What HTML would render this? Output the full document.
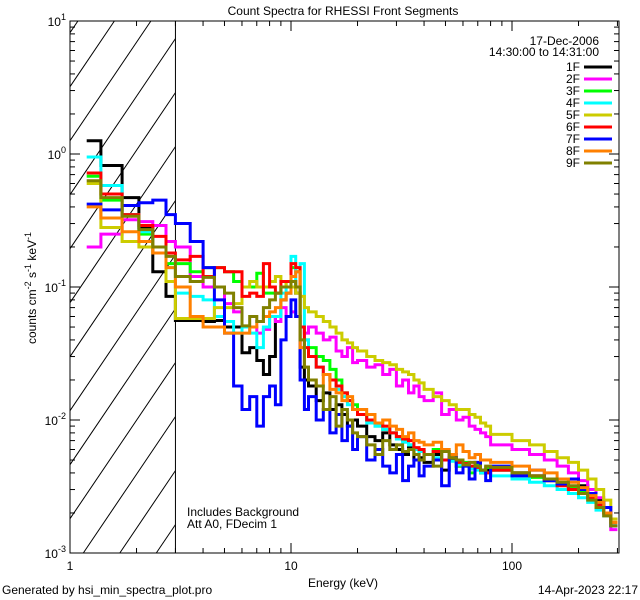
<!DOCTYPE html>
<html><head><meta charset="utf-8"><style>
html,body{margin:0;padding:0;background:#fff;overflow:hidden;width:640px;height:600px;}
svg{display:block;}
svg text{font-family:"Liberation Sans",sans-serif;font-size:12px;fill:#000;}
</style></head><body>
<svg id="chart" width="640" height="600" viewBox="0 0 640 600">
<g id="hatch"></g>
<g id="axes"></g>
<g id="series"></g>
<g id="legend"></g>
<text x="343" y="15" text-anchor="middle" font-size="14">Count Spectra for RHESSI Front Segments</text>
<text x="599" y="45" text-anchor="end">17-Dec-2006</text>
<text x="599" y="56" text-anchor="end">14:30:00 to 14:31:00</text>
<text x="187" y="516">Includes Background</text>
<text x="187" y="528">Att A0, FDecim 1</text>
<text x="343" y="587" text-anchor="middle">Energy (keV)</text>
<text transform="translate(36,288) rotate(-90)" text-anchor="middle">counts cm<tspan dy="-5" font-size="9">-2</tspan><tspan dy="5"> s</tspan><tspan dy="-5" font-size="9">-1</tspan><tspan dy="5"> keV</tspan><tspan dy="-5" font-size="9">-1</tspan></text>
<text x="2" y="594" font-size="11">Generated by hsi_min_spectra_plot.pro</text>
<text x="638" y="594" font-size="11" text-anchor="end">14-Apr-2023 22:17</text>
</svg>
<script>
const edges=[1.19,1.38,1.72,2.05,2.37,2.72,3.0,3.5,4,4.5,5,5.5,6,6.5,7,7.5,8,8.5,9,9.5,10,10.5,11,11.5,12,13,14,15,16,17,18,19,20,22,24,26,28,30,32,34,36,38,40,44,48,52,56,60,64,68,72,76,80,100,120,140,160,180,200,220,240,260,280,300];
const seriesNames=["1F","2F","3F","4F","5F","6F","7F","8F","9F"];
const s1F=[1.26,0.82,0.47,0.28,0.13,0.085, 0.056,0.056,0.055,0.056,0.05,0.05,0.032,0.035,0.028,0.022,0.03,0.06,0.08,0.09,0.11,0.09,0.025,0.02, 0.018,0.014,0.016,0.012,0.013,0.011,0.009,0.01, 0.009,0.0075,0.007,0.008,0.0065,0.006,0.0055,0.0062,0.005,0.0052, 0.0048,0.0055,0.0042,0.005,0.0045,0.0047,0.0043,0.0046,0.004,0.0042, 0.0042,0.004,0.0038,0.0035,0.0033,0.003,0.0032,0.0028,0.0025,0.002,0.0018];
const s2F=[0.2,0.25,0.32,0.31,0.29,0.22, 0.2,0.12,0.1,0.1,0.075,0.065,0.05,0.05,0.045,0.048,0.06,0.055,0.07,0.06,0.065,0.06,0.05,0.045, 0.05,0.045,0.04,0.042,0.033,0.03,0.035,0.027, 0.028,0.025,0.026,0.022,0.024,0.018,0.02,0.016,0.018,0.015, 0.014,0.016,0.011,0.012,0.01,0.0105,0.009,0.0085,0.008,0.0075, 0.0065,0.006,0.0055,0.005,0.0045,0.004,0.0035,0.003,0.0026,0.0022,0.0015];
const s3F=[0.68,0.45,0.35,0.25,0.2,0.15, 0.15,0.13,0.14,0.14,0.13,0.11,0.1,0.1,0.127,0.09,0.09,0.09,0.1,0.11,0.14,0.13,0.05,0.04, 0.035,0.03,0.028,0.024,0.02,0.016,0.014,0.013, 0.011,0.01,0.009,0.0085,0.008,0.0075,0.007,0.0065,0.006,0.0058, 0.0055,0.006,0.005,0.0052,0.0045,0.0048,0.004,0.0046,0.0042,0.0044, 0.0042,0.004,0.0037,0.0035,0.0033,0.0031,0.0029,0.0026,0.0023,0.002,0.0016];
const s4F=[0.95,0.58,0.35,0.26,0.2,0.14, 0.09,0.085,0.08,0.06,0.055,0.045,0.05,0.045,0.035,0.05,0.06,0.06,0.09,0.1,0.17,0.1,0.15,0.04, 0.03,0.025,0.022,0.02,0.017,0.015,0.013,0.012, 0.011,0.0095,0.009,0.0085,0.008,0.0072,0.0068,0.0065,0.006,0.0058, 0.0055,0.0052,0.005,0.0049,0.0046,0.0045,0.0043,0.0042,0.004,0.004, 0.0038,0.0036,0.0034,0.0032,0.003,0.0028,0.0026,0.0024,0.0021,0.0019,0.0016];
const s5F=[0.6,0.28,0.22,0.2,0.18,0.11, 0.058,0.058,0.058,0.07,0.07,0.075,0.1,0.11,0.1,0.1,0.11,0.12,0.11,0.1,0.1,0.09,0.085,0.07, 0.065,0.06,0.055,0.05,0.045,0.04,0.038,0.035, 0.033,0.03,0.028,0.027,0.026,0.024,0.023,0.022,0.02,0.019, 0.017,0.015,0.014,0.013,0.012,0.012,0.011,0.0105,0.0095,0.009, 0.0078,0.007,0.0065,0.0058,0.0052,0.0048,0.0042,0.0036,0.003,0.0025,0.0018];
const s6F=[0.72,0.5,0.35,0.29,0.24,0.18, 0.16,0.17,0.12,0.14,0.13,0.13,0.085,0.09,0.085,0.15,0.1,0.09,0.11,0.11,0.15,0.14,0.05,0.035, 0.03,0.025,0.022,0.02,0.018,0.016,0.014,0.012, 0.011,0.01,0.0095,0.009,0.008,0.0075,0.0072,0.007,0.0062,0.006, 0.0055,0.0058,0.005,0.0052,0.0048,0.0047,0.0045,0.0044,0.0042,0.004, 0.0042,0.004,0.0038,0.0035,0.0032,0.003,0.0028,0.0026,0.0023,0.002,0.0017];
const s7F=[0.42,0.38,0.41,0.43,0.45,0.35, 0.3,0.22,0.14,0.08,0.045,0.018,0.012,0.015,0.009,0.015,0.018,0.013,0.04,0.06,0.08,0.06,0.02,0.012, 0.015,0.01,0.012,0.008,0.011,0.007,0.009,0.006, 0.0075,0.005,0.006,0.0045,0.004,0.0055,0.0035,0.0045,0.005,0.0038, 0.0045,0.005,0.0032,0.0055,0.004,0.0045,0.0036,0.0048,0.0042,0.0035, 0.0045,0.0038,0.0042,0.0035,0.0033,0.0036,0.003,0.0028,0.0024,0.0022,0.0016];
const s8F=[0.4,0.33,0.26,0.22,0.18,0.14, 0.1,0.06,0.05,0.05,0.045,0.045,0.045,0.05,0.055,0.06,0.065,0.07,0.08,0.09,0.12,0.13,0.035,0.025, 0.02,0.018,0.022,0.017,0.016,0.014,0.015,0.012, 0.012,0.011,0.0095,0.01,0.009,0.0085,0.0075,0.008,0.007,0.0068, 0.0065,0.0068,0.006,0.0055,0.0065,0.0058,0.0052,0.0055,0.005,0.005, 0.0048,0.0045,0.0042,0.004,0.0036,0.0034,0.0031,0.0027,0.0024,0.002,0.0017];
const s9F=[0.63,0.47,0.34,0.27,0.2,0.17, 0.12,0.11,0.118,0.1,0.09,0.07,0.051,0.06,0.055,0.07,0.08,0.09,0.1,0.1,0.11,0.1,0.04,0.025, 0.02,0.018,0.012,0.015,0.009,0.012,0.01,0.008, 0.0075,0.0065,0.0055,0.007,0.006,0.0065,0.0058,0.006,0.0055,0.005, 0.0055,0.0045,0.0058,0.0052,0.005,0.0046,0.0048,0.0045,0.0042,0.0045, 0.0044,0.004,0.0038,0.0036,0.0034,0.0032,0.0028,0.0025,0.0022,0.0019,0.0016];
const xTickLabels=["1","10","100"];
const yTickLabels=["1","0","-1","-2","-3"];

const allSeries=[s1F,s2F,s3F,s4F,s5F,s6F,s7F,s8F,s9F];
const lineColors=["#000000","#ff00ff","#00ff00","#00ffff","#cccc00","#ff0000","#0000ff","#ff8000","#808000"];
const X0=70,X1=619,Y0=21,Y1=553,XD=221,YD=133;
const xS=e=>X0+XD*Math.log10(e);
const yS=v=>Y0+(1-Math.log10(v))*YD;
const NS="http://www.w3.org/2000/svg";
function mk(tag,attrs,parent){const el=document.createElementNS(NS,tag);for(const k in attrs)el.setAttribute(k,attrs[k]);parent.appendChild(el);return el;}

// hatch lines, clipped analytically to the hatched rectangle
const hatch=document.getElementById('hatch');
const HX1=xS(3), slope=1.48;
for(let k=-6;k<14;k++){
  const y0=140.7+(k-2)*54; // y at x=X0
  // param along x: y = y0 - slope*(x-X0)
  let xa=X0, xb=HX1;
  // clip y<=Y1: x >= X0+(y0-Y1)/slope
  xa=Math.max(xa, X0+(y0-Y1)/slope);
  // clip y>=Y0: x <= X0+(y0-Y0)/slope
  xb=Math.min(xb, X0+(y0-Y0)/slope);
  if(xb<=xa) continue;
  const l=mk('line',{x1:xa,y1:y0-slope*(xa-X0),x2:xb,y2:y0-slope*(xb-X0),stroke:'#000','stroke-width':1},hatch);
  
  
}
const ax=document.getElementById('axes');
const vl=mk('line',{x1:xS(3),y1:Y0,x2:xS(3),y2:Y1,stroke:'#000','stroke-width':1},ax);



const fr=mk('rect',{x:X0,y:Y0,width:X1-X0,height:Y1-Y0,fill:'none',stroke:'#000','stroke-width':1},ax);


for(let d=0;d<3;d++){
  for(let m=1;m<10;m++){
    const e=Math.pow(10,d)*m; const x=xS(e); if(x>X1) continue;
    const len=m===1?10:5;
    mk('line',{x1:x,y1:Y1,x2:x,y2:Y1-len,stroke:'#000'},ax);
    mk('line',{x1:x,y1:Y0,x2:x,y2:Y0+len,stroke:'#000'},ax);
  }
  const t=mk('text',{x:xS(Math.pow(10,d)),y:Y1+17,'text-anchor':'middle'},ax);
  t.textContent=xTickLabels[d];
  
  
}
for(let p=-3;p<=1;p++){
  for(let m=1;m<10;m++){
    const v=Math.pow(10,p)*m; if(v>10) continue;
    const y=yS(v); const len=m===1?10:5;
    mk('line',{x1:X0,y1:y,x2:X0+len,y2:y,stroke:'#000'},ax);
    mk('line',{x1:X1,y1:y,x2:X1-len,y2:y,stroke:'#000'},ax);
  }
}
yTickLabels.forEach((lab,i)=>{
  const p=1-i; const y=yS(Math.pow(10,p));
  const t=mk('text',{x:X0-4,y:y+5,'text-anchor':'end'},ax);
  t.innerHTML='10<tspan dy="-6" font-size="9">'+lab+'</tspan>';
  
  
});

const sg=document.getElementById('series');
const sc=mk('clipPath',{id:'pclip'},document.getElementById('chart'));
mk('rect',{x:X0,y:Y0,width:X1-X0,height:Y1-Y0},sc);
sg.setAttribute('clip-path','url(#pclip)');
allSeries.forEach((vals,si)=>{
  let d='';
  vals.forEach((v,i)=>{
    const y=yS(v);
    d+=(i===0?'M'+xS(edges[0]).toFixed(1)+','+y.toFixed(1):'V'+y.toFixed(1))+'H'+xS(edges[i+1]).toFixed(1);
  });
  const p=mk('path',{d:d,fill:'none',stroke:lineColors[si],'stroke-width':3,'stroke-linejoin':'miter'},sg);
  
  
});

const lg=document.getElementById('legend');
seriesNames.forEach((n,i)=>{
  const y=67+i*12;
  const t=mk('text',{x:580,y:y+4,'text-anchor':'end'},lg);
  t.textContent=n;
  
  
  const l=mk('line',{x1:584,y1:y,x2:612,y2:y,stroke:lineColors[i],'stroke-width':3},lg);
  
  
});
</script>
</body></html>
